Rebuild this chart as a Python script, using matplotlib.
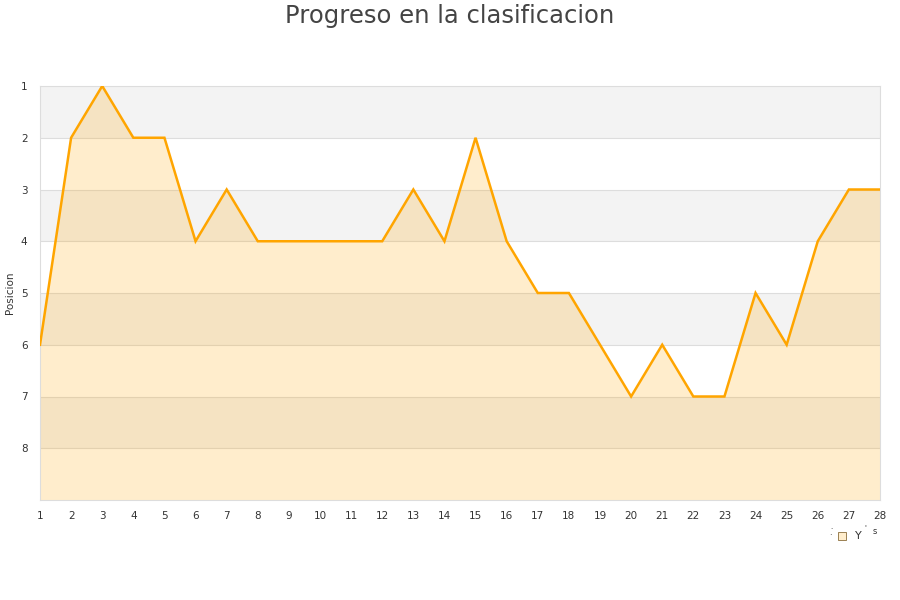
import matplotlib
matplotlib.use("Agg")
import matplotlib.pyplot as plt
from matplotlib.patches import Rectangle

rounds = list(range(1, 29))
positions = [6, 2, 1, 2, 2, 4, 3, 4, 4, 4, 4, 4, 3, 4, 2, 4, 5, 5, 6, 7, 6, 7, 7, 5, 6, 4, 3, 3]
y_ticks = [1, 2, 3, 4, 5, 6, 7, 8]
title = "Progreso en la clasificacion"
ylabel = "Posicion"

fig = plt.figure(figsize=(9, 6), dpi=100)
ax = fig.add_axes([40/900, 1-500/600, 840/900, 414/600])

ax.set_xlim(1, 28)
ax.set_ylim(9, 1)

# alternating bands
for i in range(1, 9):
    if i % 2 == 1:
        ax.axhspan(i, i+1, color="#f3f3f3", lw=0, zorder=0)
for y in range(2, 9):
    ax.axhline(y, color="#dddddd", lw=0.8, zorder=1)

ax.fill_between(rounds, positions, 9, color="#ffa500", alpha=0.2, lw=0, zorder=2)
ax.plot(rounds, positions, color="#ffa500", lw=1.8, zorder=3, solid_joinstyle="miter")

ax.set_xticks(rounds)
ax.set_yticks(y_ticks)
ax.tick_params(length=0, labelsize=7.5, colors="#333333", pad=8)
ax.tick_params(axis="y", pad=9)
for s in ax.spines.values():
    s.set_color("#dddddd")
    s.set_linewidth(0.8)

fig.text(10/900, 1-293/600, ylabel, fontsize=7.5, color="#333333", rotation=90,
         ha="center", va="center")

fig.text(0.5, 1-16/600, title, ha="center", va="center", fontsize=17.5, color="#444444")

# legend (garbled in reference)
fig.patches.append(Rectangle((838/900, 1-540/600), 8/900, 8/600, transform=fig.transFigure,
                             facecolor="#ffedcc", edgecolor="#8a6d3b", lw=0.6))
fig.text(855/900, 1-536/600, "Y", fontsize=8, color="#333333", va="center")
fig.text(873/900, 1-532/600, "s", fontsize=6, color="#333333", va="center")
fig.text(864/900, 1-527/600, "'", fontsize=5, color="#333333", va="center")
fig.text(829/900, 1-536/600, "·", fontsize=6, color="#333333", va="center")
fig.text(830/900, 1-527/600, ".", fontsize=5, color="#333333", va="center")

fig.savefig("out.png", dpi=100)
